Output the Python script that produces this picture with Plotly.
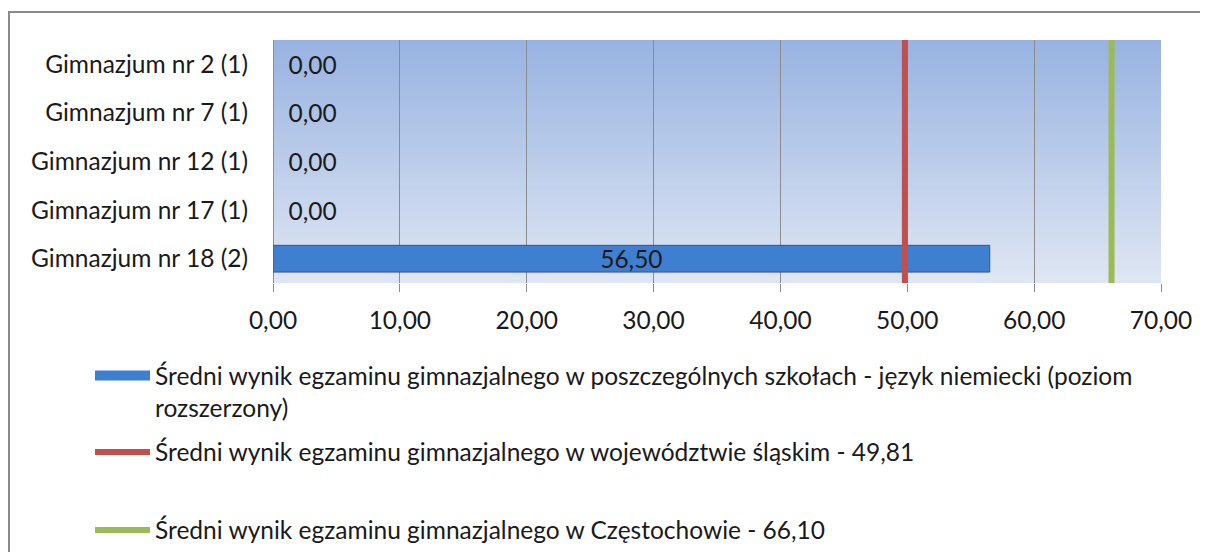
import plotly.graph_objects as go

schools = ["Gimnazjum nr 2 (1)", "Gimnazjum nr 7 (1)", "Gimnazjum nr 12 (1)",
           "Gimnazjum nr 17 (1)", "Gimnazjum nr 18 (2)"]
school_scores = [0.00, 0.00, 0.00, 0.00, 56.50]
voivodeship_avg = 49.81
city_avg = 66.10
x_ticks = [0, 10, 20, 30, 40, 50, 60, 70]

name_schools = ("Średni wynik egzaminu gimnazjalnego w poszczególnych szkołach - język niemiecki (poziom"
                "<br>rozszerzony)")
name_voiv = f"Średni wynik egzaminu gimnazjalnego w województwie śląskim - {voivodeship_avg:.2f}".replace(".", ",")
name_city = f"Średni wynik egzaminu gimnazjalnego w Częstochowie - {city_avg:.2f}".replace(".", ",")

FONT = "Lato"
FS = 24.5
OFF = 8  # page body margin
W, H = 1208 - 2 * OFF, 560 - 2 * OFF
L, R, T, B = 273 - OFF, 1161 - OFF, 40 - OFF, 283 - OFF

BAR_COLOR = "#3f7fcf"

fig = go.Figure()

fig.add_trace(go.Bar(
    y=schools,
    x=school_scores,
    orientation="h",
    width=0.55,
    name=name_schools,
    showlegend=False,
    legendgroup="schools",
    marker=dict(color=BAR_COLOR,
                line=dict(color="#2b5797", width=[0 if v == 0 else 1 for v in school_scores])),
    texttemplate=["\u00a0\u00a0%{x:.2f}" if v == 0 else "%{x:.2f}" for v in school_scores],
    textposition=["outside" if v == 0 else "inside" for v in school_scores],
    insidetextanchor="middle",
    constraintext="none",
    textfont=dict(family=FONT, size=FS, color="#1a1a1a"),
    cliponaxis=False,
))
# legend entry for bars drawn as a wide flat bar
fig.add_trace(go.Scatter(
    x=[None], y=[None], mode="lines", name=name_schools,
    legendgroup="schools", legend="legend",
    line=dict(color=BAR_COLOR, width=11),
))

fig.add_trace(go.Scatter(
    x=[voivodeship_avg, voivodeship_avg], y=[0, 1], yaxis="y2",
    mode="lines", line=dict(color="#c0504d", width=6),
    name=name_voiv, legend="legend2",
))
fig.add_trace(go.Scatter(
    x=[city_avg, city_avg], y=[0, 1], yaxis="y2",
    mode="lines", line=dict(color="#9bbb59", width=6),
    name=name_city, legend="legend3",
))

# gradient plot background
top_c = (152, 179, 225)
bot_c = (223, 230, 243)
n = 60
shapes = []
for i in range(n):
    f = i / (n - 1)
    c = tuple(round(top_c[k] + (bot_c[k] - top_c[k]) * f) for k in range(3))
    shapes.append(dict(type="rect", xref="x domain", yref="y domain",
                       x0=0, x1=1, y0=max(0, 1 - (i + 1.6) / n), y1=1 - i / n,
                       fillcolor=f"rgb{c}", line=dict(width=0), layer="below"))

# outer chart frame (window pixel coords -> paper)
px2x = lambda p: (p - OFF - L) / (R - L)
px2y = lambda p: (B - (p - OFF)) / (B - T)
shapes.append(dict(type="path", xref="paper", yref="paper",
                   path=f"M {px2x(9)} {px2y(570)} L {px2x(9)} {px2y(12)} L {px2x(1220)} {px2y(12)}",
                   line=dict(color="#8a8a8a", width=2)))

legend_common = dict(font=dict(family=FONT, size=FS, color="#1a1a1a"), bgcolor="rgba(0,0,0,0)",
                     xanchor="left", itemwidth=55, valign="top")

fig.update_layout(
    width=W, height=H,
    margin=dict(l=L, r=W - R, t=T, b=H - B, pad=0, autoexpand=False),
    paper_bgcolor="white",
    plot_bgcolor="rgba(0,0,0,0)",
    separators=", ",
    font=dict(family=FONT, size=FS, color="#1a1a1a"),
    showlegend=True,
    xaxis=dict(range=[0, 70], tickvals=x_ticks, tickformat=".2f",
               showgrid=True, gridcolor="#8c8c8c", gridwidth=1,
               zeroline=True, zerolinecolor="#8c8c8c", zerolinewidth=1,
               ticks="outside", ticklen=8, tickcolor="#8c8c8c",
               ticklabelstandoff=8, showline=False),
    yaxis=dict(type="category", autorange="reversed", showgrid=False,
               ticks="", ticklabelstandoff=24, showline=False),
    yaxis2=dict(overlaying="y", range=[0, 1], visible=False),
    shapes=shapes,
    legend=dict(x=px2x(90), y=px2y(353), yanchor="top", **legend_common),
    legend2=dict(x=px2x(90), y=px2y(452), yanchor="middle", **legend_common),
    legend3=dict(x=px2x(90), y=px2y(530), yanchor="middle", **legend_common),
)

fig.write_html("out.html")
